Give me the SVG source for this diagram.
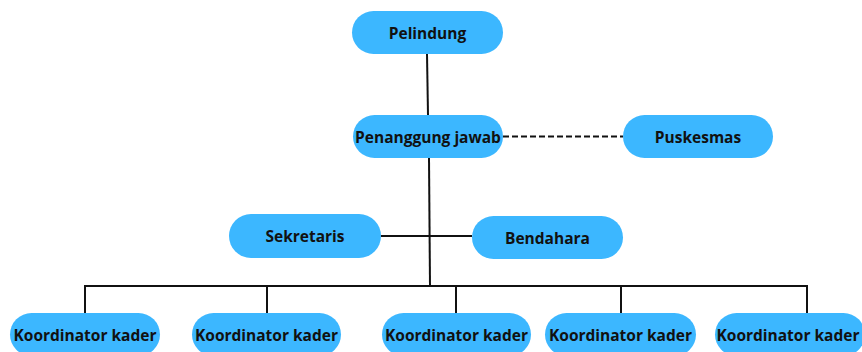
<svg xmlns="http://www.w3.org/2000/svg" width="862" height="352" viewBox="0 0 862 352">
<style>
.box{fill:#3CB7FF;}
.lbl{font-family:"Open Sans","Noto Sans","Liberation Sans",sans-serif;font-weight:bold;font-size:15.5px;fill:#111;text-anchor:middle;dominant-baseline:central;}
.ln{stroke:#111;stroke-width:2;fill:none;}
.dash{stroke:#111;stroke-width:2;fill:none;stroke-dasharray:6,3;}
</style>
<rect width="862" height="352" fill="#fff"/>
<g id="connectors">
<line class="ln" x1="427" y1="54" x2="428" y2="115"/>
<line class="dash" x1="503" y1="136.5" x2="623" y2="136.5"/>
<line class="ln" x1="429" y1="158" x2="430" y2="286"/>
<line class="ln" x1="381" y1="236" x2="472" y2="236"/>
<polyline class="ln" points="85,313 85,286 807,286 807,313"/>
<line class="ln" x1="267" y1="286" x2="267" y2="313"/>
<line class="ln" x1="456" y1="286" x2="456" y2="313"/>
<line class="ln" x1="621" y1="286" x2="621" y2="313"/>
</g>
<g id="pelindung"><rect class="box" x="352" y="11" width="151" height="43" rx="21.5"/><text class="lbl" x="427.5" y="32.5">Pelindung</text></g>
<g id="penanggung-jawab"><rect class="box" x="353" y="115" width="150" height="43" rx="21.5"/><text class="lbl" x="428" y="136.5">Penanggung jawab</text></g>
<g id="puskesmas"><rect class="box" x="623" y="115" width="150" height="43" rx="21.5"/><text class="lbl" x="698" y="136.5">Puskesmas</text></g>
<g id="sekretaris"><rect class="box" x="229" y="214" width="152" height="44" rx="22"/><text class="lbl" x="305" y="236">Sekretaris</text></g>
<g id="bendahara"><rect class="box" x="472" y="216" width="151" height="43" rx="21.5"/><text class="lbl" x="547.5" y="237.5">Bendahara</text></g>
<g id="koordinator-1"><rect class="box" x="10" y="313" width="150" height="43" rx="21.5"/><text class="lbl" x="85" y="334.5">Koordinator kader</text></g>
<g id="koordinator-2"><rect class="box" x="192" y="313" width="149" height="43" rx="21.5"/><text class="lbl" x="266.5" y="334.5">Koordinator kader</text></g>
<g id="koordinator-3"><rect class="box" x="382" y="313" width="149" height="43" rx="21.5"/><text class="lbl" x="456.5" y="334.5">Koordinator kader</text></g>
<g id="koordinator-4"><rect class="box" x="545" y="313" width="151" height="43" rx="21.5"/><text class="lbl" x="620.5" y="334.5">Koordinator kader</text></g>
<g id="koordinator-5"><rect class="box" x="715" y="313" width="150" height="43" rx="21.5"/><text class="lbl" x="788" y="334.5">Koordinator kader</text></g>
</svg>
